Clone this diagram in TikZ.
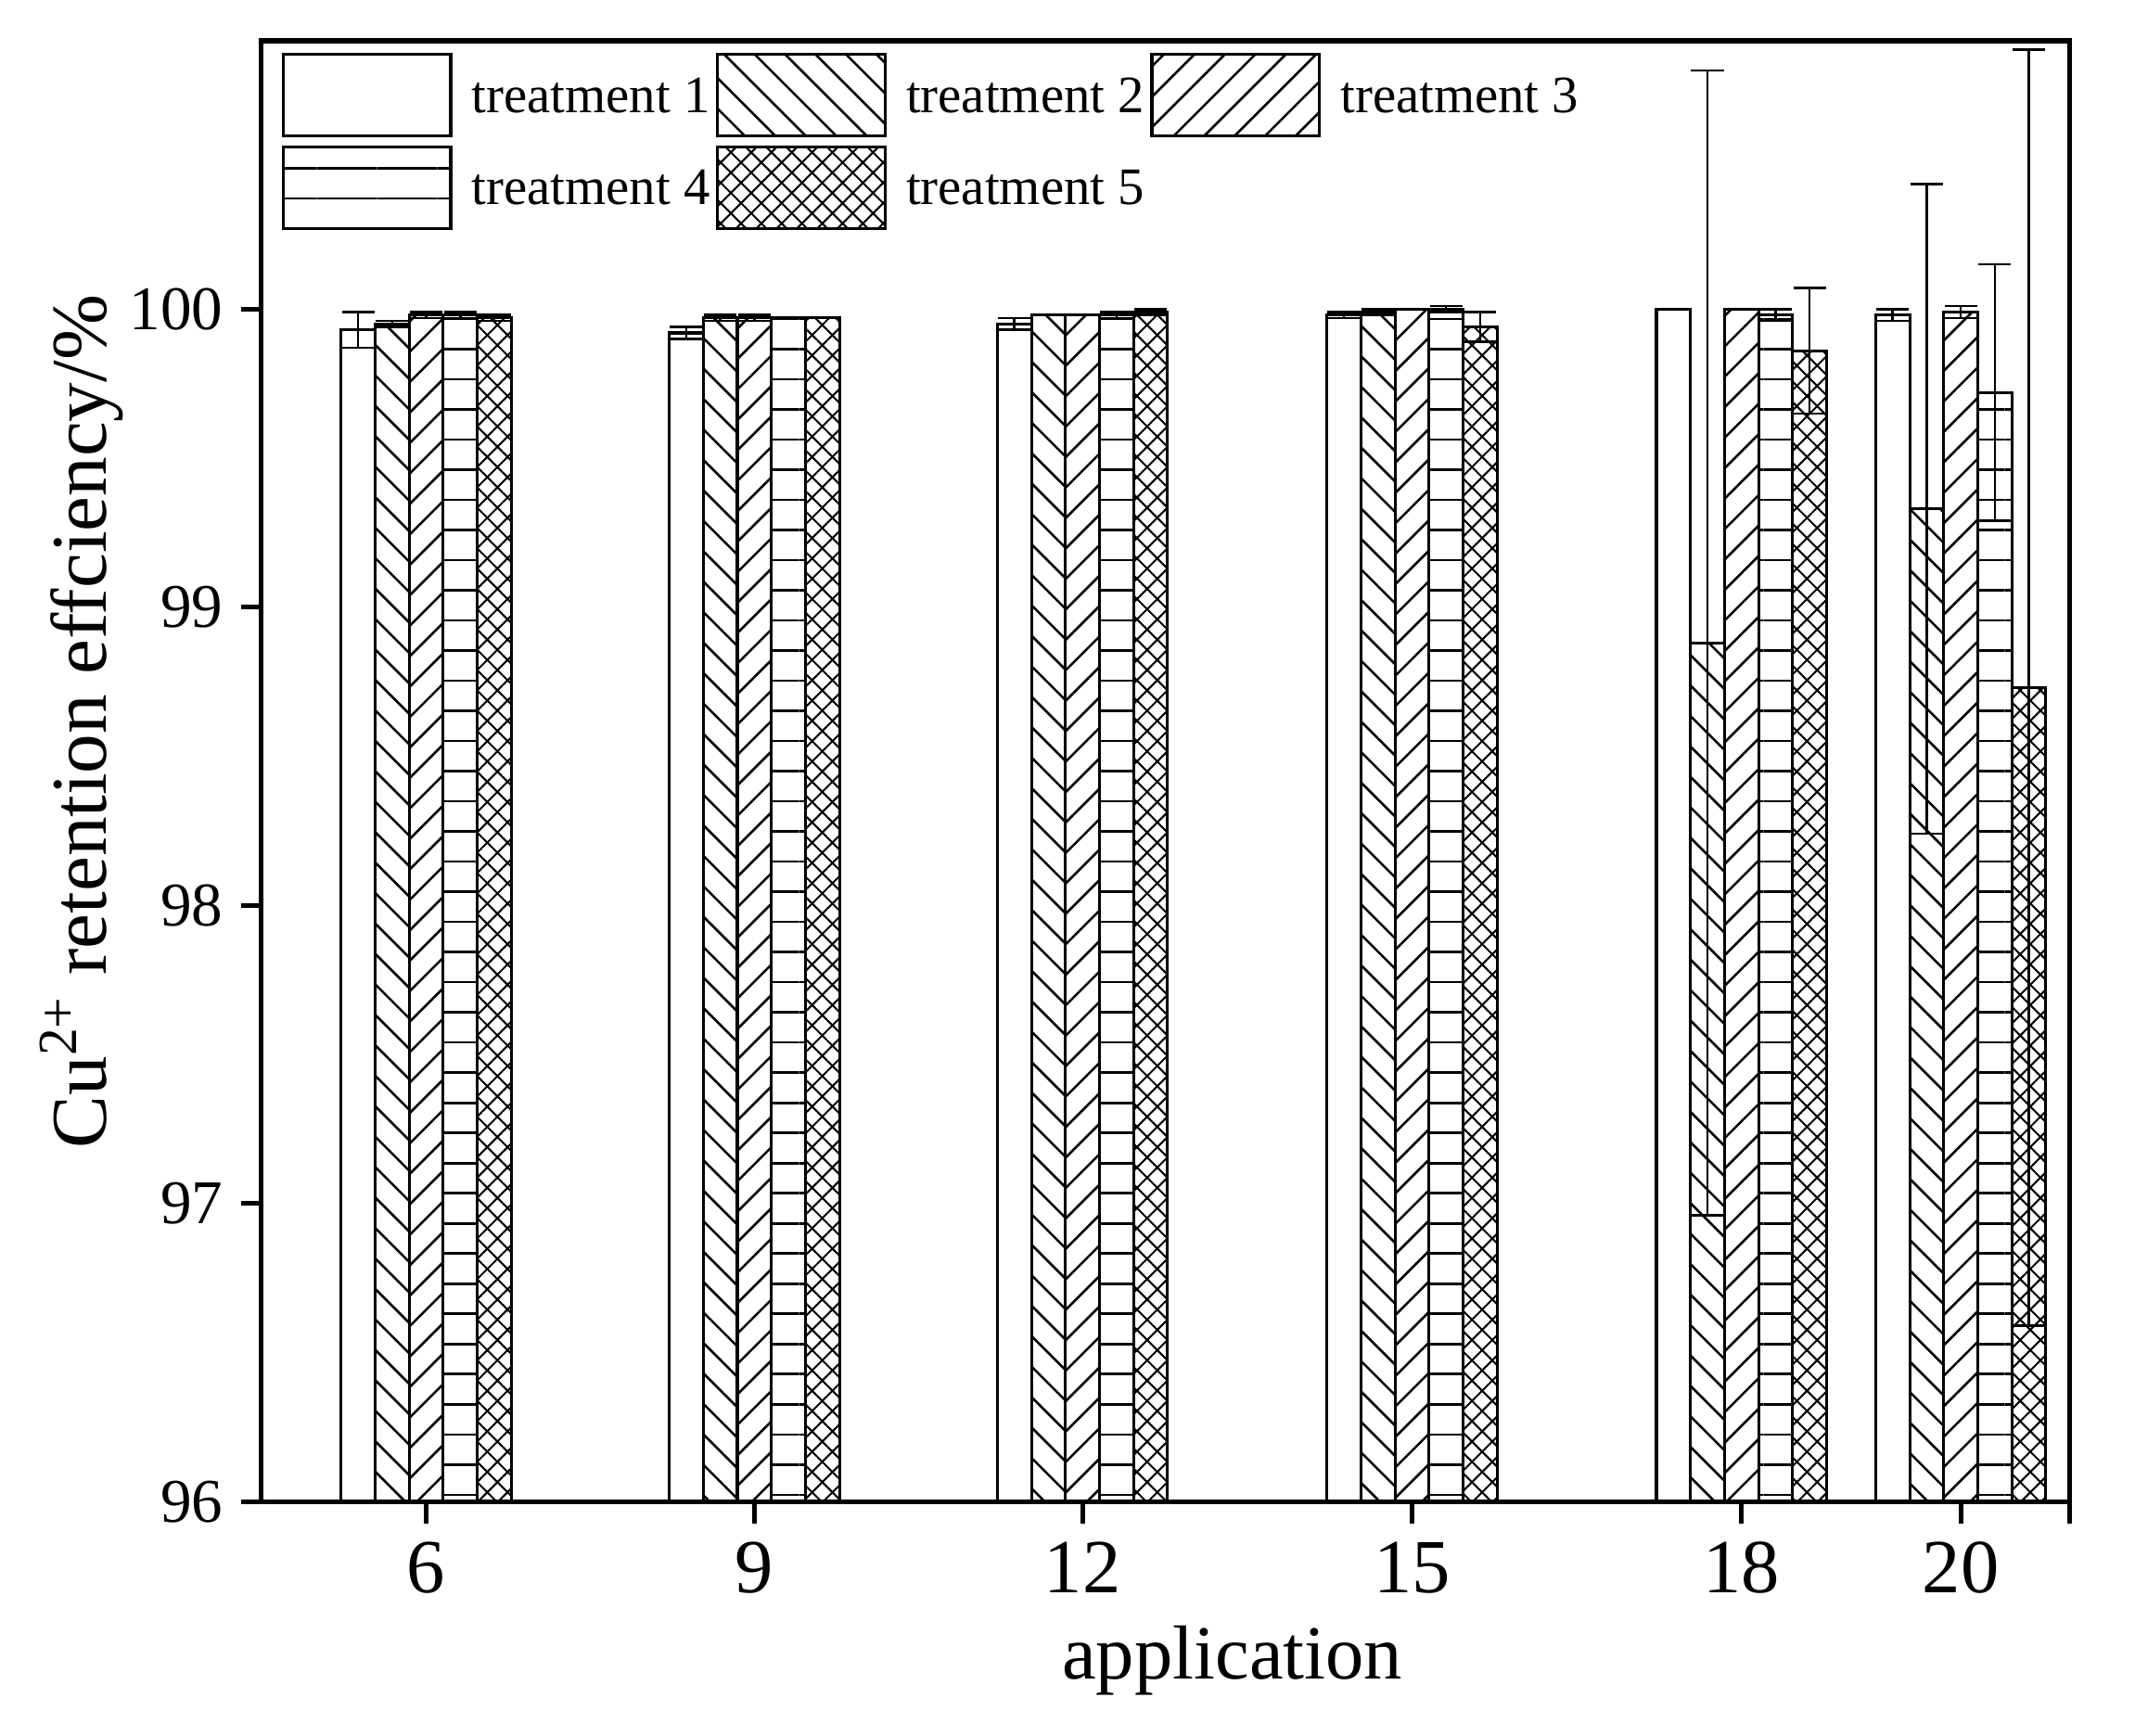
\documentclass[tikz,border=0pt]{standalone}
\usepackage{fontspec}
\setmainfont{Liberation Serif}
\usetikzlibrary{patterns.meta}

\tikzset{
	bar/.style={draw, line width=0.6pt},
	t1/.style={bar, fill=white},
	t2/.style={bar, preaction={fill=white}, pattern={Lines[angle=-45,distance=4.5pt,line width=0.5pt]}},
	t3/.style={bar, preaction={fill=white}, pattern={Lines[angle=45,distance=4.5pt,line width=0.5pt]}},
	t4/.style={bar, preaction={fill=white}, pattern={Lines[angle=0,distance=6.3pt,line width=0.5pt]}},
	t5/.style={bar, preaction={fill=white}, pattern={Hatch[angle=45,distance=3pt,line width=0.4pt]}},
	legbox/.style={minimum width=1.23cm, minimum height=0.6cm, inner sep=0pt},
	legtext/.style={anchor=west, font=\fontsize{11}{13}\selectfont},
}

\begin{document}
\begin{tikzpicture}
	\useasboundingbox (0,0) rectangle (15.68,12.75);

	% bars, y = 1.72 + (v-96)*2.19
	\foreach \c/\vals in {
		3.13/{99.93/0.06,99.95/0.01,99.98/0.01,99.98/0.01,99.97/0.01},
		5.54/{99.92/0.02,99.97/0.01,99.97/0.01,99.97/0.00,99.97/0.00},
		7.95/{99.95/0.02,99.98/0.00,99.98/0.00,99.98/0.01,99.99/0.01},
		10.37/{99.98/0.01,99.99/0.01,100.0/0.00,100.0/0.01,99.94/0.05},
		12.79/{100.0/0.00,98.88/1.92,100.0/0.00,99.98/0.02,99.86/0.21},
		14.40/{99.98/0.02,99.33/1.09,99.99/0.02,99.72/0.43,98.73/2.14}} {
		\foreach \v/\e [count=\i] in \vals {
			\pgfmathsetmacro{\xl}{\c-0.625+0.25*(\i-1)}
			\pgfmathsetmacro{\xm}{\xl+0.125}
			\pgfmathsetmacro{\yv}{1.72+(\v-96)*2.19}
			\pgfmathsetmacro{\yt}{1.72+(\v+\e-96)*2.19}
			\pgfmathsetmacro{\yb}{1.72+(\v-\e-96)*2.19}
			\draw[t\i] (\xl,1.72) rectangle ++(0.25,\yv-1.72);
			\ifdim\e pt>0pt
				\draw[line width=0.5pt] (\xm,\yb) -- (\xm,\yt)
					(\xm-0.12,\yt) -- (\xm+0.12,\yt) (\xm-0.12,\yb) -- (\xm+0.12,\yb);
			\fi
		}
	}

	% axes
	\draw[line width=1pt] (15.20,1.72) -- (1.92,1.72) -- (1.92,12.45) -- (15.20,12.45) -- cycle;
	\foreach \v in {96,...,100} {
		\pgfmathsetmacro{\yv}{1.72+(\v-96)*2.19}
		\draw[line width=1pt] (1.92,\yv) -- (1.77,\yv) node[left, font=\fontsize{13}{15}\selectfont] {\v};
	}
	\foreach \x/\a in {3.13/6,5.54/9,7.95/12,10.37/15,12.79/18,14.40/20}
		\draw[line width=1pt] (\x,1.72) -- (\x,1.56) node[below, font=\fontsize{16}{18}\selectfont] {\a};
	\draw[line width=1pt] (15.20,1.72) -- (15.20,1.56);

	\node[font=\fontsize{16}{18}\selectfont] (xlab) at (9.05,0.55) {application};
	\node[rotate=90, font=\fontsize{16.5}{18}\selectfont] (ylab) at (0.6,7.45) {Cu\textsuperscript{2+} retention effciency/\%};

	% legend
	\node[legbox, t1] (l1) at (2.695,12.05) {};
	\node[legbox, t2] (l2) at (5.885,12.05) {};
	\node[legbox, t3] (l3) at (9.075,12.05) {};
	\node[legbox, t4] (l4) at (2.695,11.37) {};
	\node[legbox, t5] (l5) at (5.885,11.37) {};
	\foreach \i in {1,...,5}
		\node[legtext] (lt\i) at ([xshift=0.02cm]l\i.east) {treatment \i};
\end{tikzpicture}
\end{document}
